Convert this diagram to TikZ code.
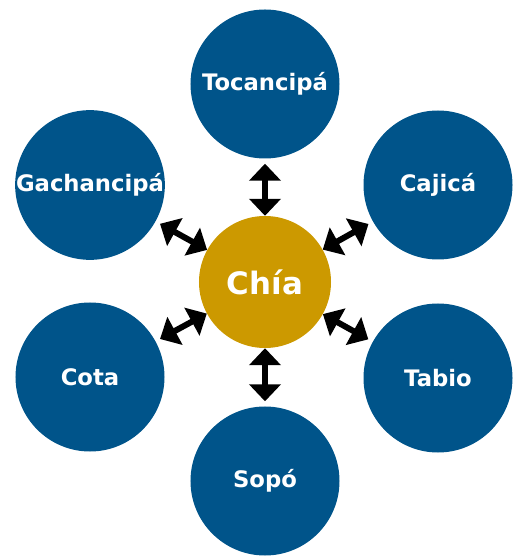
\documentclass[tikz,border=0pt]{standalone}
\usepackage{fontspec}
\setmainfont{DejaVu Sans}
\usetikzlibrary{arrows.meta}
\definecolor{townblue}{RGB}{0,84,138}
\definecolor{chiagold}{RGB}{204,153,0}

\begin{document}
\begin{tikzpicture}[x=1bp,y=1bp,townnode/.style={circle,fill=townblue,text=white,minimum size=149bp,inner sep=0pt,font=\bfseries\fontsize{22.8}{27}\selectfont},chianode/.style={circle,fill=chiagold,text=white,minimum size=132bp,inner sep=0pt,font=\bfseries\fontsize{31}{37}\selectfont},link/.style={line width=6bp,{Triangle[length=17bp,width=31bp]}-{Triangle[length=17bp,width=31bp]},shorten <=5bp}]
		\useasboundingbox (-265,282) rectangle (250,-276);
		\node[chianode] (chia) at (0,0) {Chía};
		\node[townnode] (tocancipa) at (0,198) {Tocancipá};
		\node[townnode] (gachancipa) at (-175,97) {Gachancipá};
		\node[townnode] (cajica) at (173,97) {Cajicá};
		\node[townnode] (cota) at (-175,-95) {Cota};
		\node[townnode] (tabio) at (173,-96) {Tabio};
		\node[townnode] (sopo) at (0,-199) {Sopó};
		%\draw[link] (chia) -- (tocancipa);
		\draw[link] (tocancipa) -- (chia);
		\draw[link] (gachancipa) -- (chia);
		\draw[link] (cajica) -- (chia);
		\draw[link] (cota) -- (chia);
		\draw[link] (tabio) -- (chia);
		\draw[link] (sopo) -- (chia);
	\end{tikzpicture}
\end{document}
